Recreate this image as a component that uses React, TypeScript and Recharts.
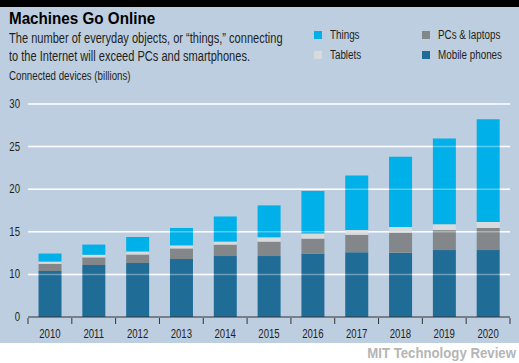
import React from 'react';
import { BarChart, Bar, XAxis, YAxis, CartesianGrid, ReferenceLine } from 'recharts';

const years = ['2010', '2011', '2012', '2013', '2014', '2015', '2016', '2017', '2018', '2019', '2020'];
const mobilePhones = [10.4, 11.1, 11.35, 11.8, 12.15, 12.15, 12.45, 12.6, 12.55, 12.85, 12.85];
const pcsLaptops = [0.85, 0.9, 1.0, 1.25, 1.35, 1.7, 1.75, 2.05, 2.35, 2.35, 2.6];
const tablets = [0.25, 0.3, 0.35, 0.35, 0.35, 0.5, 0.6, 0.55, 0.65, 0.7, 0.7];
const things = [0.95, 1.2, 1.7, 2.05, 2.95, 3.75, 5.0, 6.4, 8.25, 10.05, 12.05];
const yTicks = [5, 10, 15, 20, 25, 30];
const yTickLabels = ['0', '10', '15', '20', '25', '30'];
const gridValues = [10, 15, 20, 25, 30];

const series = [
  { key: 'mobile', name: 'Mobile phones', color: '#1f6c97', values: mobilePhones },
  { key: 'pcs', name: 'PCs & laptops', color: '#838789', values: pcsLaptops },
  { key: 'tablets', name: 'Tablets', color: '#d8dbdb', values: tablets },
  { key: 'things', name: 'Things', color: '#00b0e8', values: things },
];

const legendOrder = [
  { name: 'Things', col: 0, row: 0 },
  { name: 'PCs & laptops', col: 1, row: 0 },
  { name: 'Tablets', col: 0, row: 1 },
  { name: 'Mobile phones', col: 1, row: 1 },
];

const data = years.map((y, i) => {
  const row: Record<string, any> = { year: y };
  series.forEach((s) => {
    row[s.key] = s.values[i];
  });
  return row;
});

const FONT = '"Liberation Sans", Arial, sans-serif';
const TEXT = '#231f20';
const SQ = 0.8;

const Narrow = ({ children, scale = SQ, origin = 'left' }: any) => (
  <span style={{ display: 'inline-block', transform: `scaleX(${scale})`, transformOrigin: `${origin} center` }}>{children}</span>
);

const XTick = (props: any) => {
  const { x, y, payload, index, visibleTicksCount } = props;
  const half = payload && payload.offset ? payload.offset : 22;
  const axisY = y - 1;
  return (
    <g>
      <line x1={x - half} x2={x - half} y1={axisY} y2={axisY - 6} stroke="#333" strokeWidth={1} />
      {index === visibleTicksCount - 1 && (
        <line x1={x + half} x2={x + half} y1={axisY} y2={axisY - 6} stroke="#333" strokeWidth={1} />
      )}
      <text transform={`translate(${x},${axisY + 14}) scale(${SQ},1)`} textAnchor="middle" fontFamily={FONT} fontSize={12} fill={TEXT}>
        {payload.value}
      </text>
    </g>
  );
};

const YTick = (props: any) => {
  const { x, y, payload } = props;
  const idx = yTicks.indexOf(payload.value);
  return (
    <text transform={`translate(${x},${y + 4}) scale(${SQ},1)`} textAnchor="end" fontFamily={FONT} fontSize={12} fill={TEXT}>
      {idx >= 0 ? yTickLabels[idx] : payload.value}
    </text>
  );
};

export default function App() {
  return (
    <div style={{ position: 'absolute', left: 0, top: 0, width: 519, height: 363, background: '#ffffff', overflow: 'hidden' }}>
      <div style={{ position: 'absolute', left: 0, top: 0, width: 519, height: 7, background: '#000' }} />
      <div style={{ position: 'absolute', left: 0, top: 7, width: 519, height: 336, background: '#bdcee0' }} />
      <div style={{ position: 'absolute', left: 0, top: 0 }}>
        <BarChart width={519} height={363} data={data} margin={{ top: 104, right: 9, left: 0, bottom: 0 }} barCategoryGap="24%">
          <CartesianGrid vertical={false} horizontalValues={gridValues} stroke="#ffffff" strokeOpacity={0.9} strokeWidth={1.5} />
          <XAxis dataKey="year" height={46} axisLine={{ stroke: '#333', strokeWidth: 1 }} tickLine={false} tick={<XTick />} interval={0} />
          <YAxis
            width={28}
            domain={[5, 30]}
            ticks={yTicks}
            allowDataOverflow
            axisLine={false}
            tickLine={false}
            tickSize={0}
            tickMargin={8}
            tick={<YTick />}
          />
          {series.map((s) => (
            <Bar key={s.key} dataKey={s.key} name={s.name} stackId="a" fill={s.color} isAnimationActive={false} />
          ))}
          {gridValues.map((v) => (
            <ReferenceLine key={v} y={v} stroke="#ffffff" strokeOpacity={0.35} strokeWidth={1.5} />
          ))}
        </BarChart>
      </div>
      <div style={{ position: 'absolute', left: 9, top: 10, fontFamily: FONT, fontWeight: 700, fontSize: 16, color: '#000', whiteSpace: 'nowrap' }}>
        <Narrow scale={0.95}>Machines Go Online</Narrow>
      </div>
      <div style={{ position: 'absolute', left: 9, top: 29, fontFamily: FONT, fontSize: 14, lineHeight: '18px', color: TEXT, whiteSpace: 'nowrap' }}>
        <Narrow scale={0.79}>The number of everyday objects, or “things,” connecting</Narrow>
        <br />
        <Narrow scale={0.79}>to the Internet will exceed PCs and smartphones.</Narrow>
      </div>
      <div style={{ position: 'absolute', left: 9, top: 69, fontFamily: FONT, fontSize: 12, color: TEXT, whiteSpace: 'nowrap' }}>
        <Narrow scale={0.81}>Connected devices (billions)</Narrow>
      </div>
      {legendOrder.map((l) => {
        const s = series.find((q) => q.name === l.name)!;
        const left = l.col === 0 ? 314 : 422;
        const top = l.row === 0 ? 27 : 47;
        return (
          <div key={l.name} style={{ position: 'absolute', left, top, height: 15, display: 'flex', alignItems: 'center', whiteSpace: 'nowrap' }}>
            <span style={{ display: 'inline-block', width: 8, height: 8, background: s.color, marginRight: 8 }} />
            <span style={{ fontFamily: FONT, fontSize: 12, color: TEXT }}>
              <Narrow scale={0.82}>{s.name}</Narrow>
            </span>
          </div>
        );
      })}
      <div style={{ position: 'absolute', right: 3, top: 344, fontFamily: FONT, fontWeight: 700, fontSize: 15, color: '#b5b5b5', whiteSpace: 'nowrap' }}>
        <Narrow scale={0.88} origin="right">MIT Technology Review</Narrow>
      </div>
    </div>
  );
}
